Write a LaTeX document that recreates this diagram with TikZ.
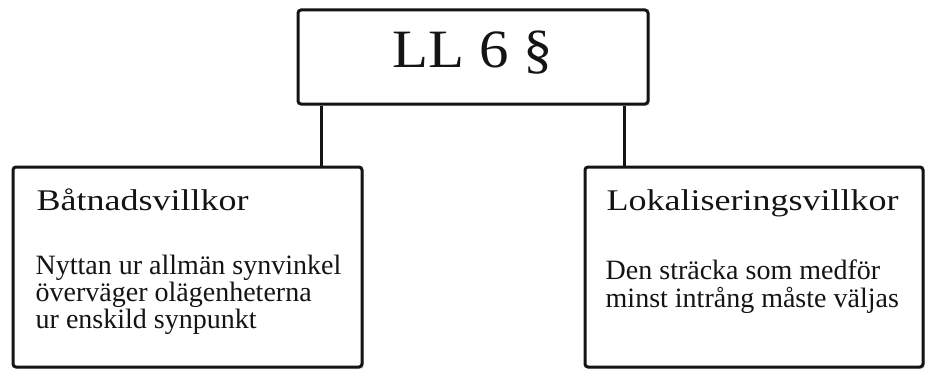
\documentclass[tikz,border=0pt]{standalone}
\usepackage{fontspec}
\usepackage{graphicx}
\setmainfont{Liberation Serif}
\usetikzlibrary{positioning,calc,shadows}
\definecolor{lineColor}{RGB}{20,20,20}
\newcommand{\widetext}[2]{\scalebox{#1}[1]{#2}}

\begin{document}
\begin{tikzpicture}[
  x=1pt, y=1pt,
  box/.style={draw=lineColor, line width=3pt, rounded corners=3pt, fill=white,
    drop shadow={opacity=0.2, shadow xshift=2pt, shadow yshift=-2pt}},
  headtext/.style={font=\fontsize{54}{60}\selectfont, text=lineColor, anchor=base, inner sep=0pt},
  title/.style={font=\fontsize{30}{34}\selectfont, text=lineColor, anchor=base west, inner sep=0pt},
  bodytext/.style={font=\fontsize{28}{28.5}\selectfont, text=lineColor, anchor=base west, inner sep=0pt},
  link/.style={draw=lineColor, line width=3pt}
]

\useasboundingbox (0,0) rectangle (925,-369);

% ------------------------------------------------------------------
% Top: the law paragraph
% ------------------------------------------------------------------
\node[box, minimum width=350pt, minimum height=94pt] (law) at (473,-57) {};
\node[headtext] (lawtxt) at ($(law.center)+(0,-10)$) {\widetext{1.09}{LL 6 §}};

% ------------------------------------------------------------------
% Left: båtnadsvillkor
% ------------------------------------------------------------------
\node[box, minimum width=349pt, minimum height=200pt] (left) at (187.5,-267) {};
\node[title] (lefttitle) at ($(left.north west)+(25,-45)$) {\widetext{1.2}{Båtnadsvillkor}};
\foreach \txt [count=\k from 0] in {Nyttan ur allmän synvinkel, överväger olägenheterna, ur enskild synpunkt}
  \node[bodytext] (leftbody\k) at ($(left.north west)+(24,-109-27*\k)$) {\txt};

% ------------------------------------------------------------------
% Right: lokaliseringsvillkor
% ------------------------------------------------------------------
\node[box, minimum width=338pt, minimum height=200pt] (right) at (754,-267) {};
\node[title] (righttitle) at ($(right.north west)+(23,-45)$) {\widetext{1.2}{Lokaliseringsvillkor}};
\foreach \txt [count=\k from 0] in {Den sträcka som medför, minst intrång måste väljas}
  \node[bodytext] (rightbody\k) at ($(right.north west)+(22,-114-28*\k)$) {\txt};

% Connectors
\draw[link] ($(law.south west)+(25,0)$) coordinate (lfoot) -- (lfoot |- left.north);
\draw[link] ($(law.south east)+(-25,0)$) coordinate (rfoot) -- (rfoot |- right.north);

\end{tikzpicture}
\end{document}
